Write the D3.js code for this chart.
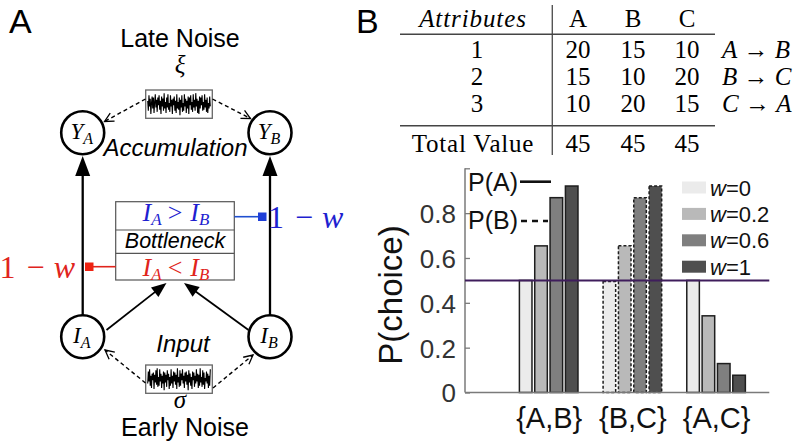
<!DOCTYPE html>
<html><head><meta charset="utf-8">
<script src="https://cdn.jsdelivr.net/npm/d3@7"></script>
<style>body{margin:0;background:#fff}svg{display:block}</style>
</head><body>
<script>
// ---------- data ----------
const pairs = ["{A,B}", "{B,C}", "{A,C}"];
const weights = ["0", "0.2", "0.6", "1"];
const probW0   = [0.50, 0.495, 0.50];
const probW02  = [0.654, 0.654, 0.342];
const probW06  = [0.869, 0.869, 0.129];
const probW1   = [0.921, 0.921, 0.077];
const dashedPair = [false, true, false];
const barColors = ["#ebebeb", "#b9b9b9", "#7f7f7f", "#4f4f4f"];
const yTicks = [0, 0.2, 0.4, 0.6, 0.8, 1.0];
const yTickLabels = ["0", "0.2", "0.4", "0.6", "0.8", ""];
const chanceLevel = 0.5;

const tableCols = ["A", "B", "C"];
const tableRows = ["1", "2", "3"];
const attr1 = [20, 15, 10];
const attr2 = [15, 10, 20];
const attr3 = [10, 20, 15];
const totals = [45, 45, 45];
const relations = [["A", "B"], ["B", "C"], ["C", "A"]];

const noiseLate = [0.3,-0.6,0.8,-0.2,0.5,-0.9,0.1,0.7,-0.4,0.6,-0.8,0.2,0.9,-0.3,0.4,-0.7,0.6,-0.1,0.8,-0.5,0.3,-0.9,0.7,-0.2,0.5,-0.6,1.0,-0.4,0.2,-0.8,0.6,-0.3,0.9,-0.5,0.1,-0.7,0.8,-0.2,0.4,-0.9,0.5,-0.1,0.7,-0.6,0.3,-0.8,0.9,-0.4,0.2,-0.5,0.6,-1.0,0.4,-0.3,0.8,-0.7,0.1,-0.6,0.9,-0.2,0.5,-0.8,0.3,-0.4,0.7,-0.9,0.6,-0.1,0.8,-0.5,0.2,-0.7,0.9,-0.3,0.4,-0.6,1.0,-0.2,0.5,-0.8,0.3,-0.9,0.7,-0.4,0.6,-0.1,0.8,-0.6,0.2,-0.5,0.9,-0.3,0.4,-0.7,0.6,-0.8,0.1,-0.4,0.7,-0.2];
const noiseEarly = [-0.4,0.7,-0.2,0.9,-0.6,0.3,-0.8,0.5,-0.1,0.6,-0.9,0.4,-0.3,0.8,-0.5,1.0,-0.7,0.2,-0.6,0.9,-0.2,0.5,-0.8,0.3,-0.4,0.7,-1.0,0.6,-0.3,0.4,-0.7,0.8,-0.1,0.5,-0.9,0.2,-0.6,0.9,-0.4,0.3,-0.8,0.7,-0.2,0.6,-0.5,0.4,-0.9,1.0,-0.3,0.2,-0.7,0.8,-0.6,0.5,-0.1,0.9,-0.4,0.3,-0.8,0.6,-0.2,0.7,-0.5,0.4,-1.0,0.8,-0.3,0.5,-0.6,0.2,-0.9,0.7,-0.1,0.6,-0.7,0.3,-0.4,0.9,-0.2,0.5,-0.8,0.4,-0.6,1.0,-0.3,0.2,-0.7,0.8,-0.5,0.6,-0.9,0.1,-0.2,0.7,-0.4,0.5,-0.8,0.3,-0.6,0.9];

// ---------- setup ----------
const W = 796, H = 442;
const SANS = "'Liberation Sans', Arial, sans-serif";
const SERIF = "'Liberation Serif', 'Times New Roman', serif";
const svg = d3.select("body").append("svg").attr("width", W).attr("height", H);

// ---------- panel letters ----------
svg.append("text").attr("x", 9).attr("y", 33).attr("font-family", SANS).attr("font-size", 34).text("A");
svg.append("text").attr("x", 356).attr("y", 33).attr("font-family", SANS).attr("font-size", 34).text("B");

// ---------- panel A diagram ----------
const gA = svg.append("g");
function arrow(g, x1, y1, x2, y2, o) {
  const dx = x2 - x1, dy = y2 - y1, L = Math.hypot(dx, dy), ux = dx / L, uy = dy / L, px = -uy, py = ux;
  const bx = x2 - o.len * ux, by = y2 - o.len * uy;
  const line = g.append("line").attr("x1", x1).attr("y1", y1)
    .attr("stroke", "#000").attr("stroke-width", o.sw || 2);
  if (o.dashed) line.attr("stroke-dasharray", "4,3");
  if (o.filled) {
    line.attr("x2", bx + ux).attr("y2", by + uy);
    g.append("path").attr("d", `M${x2},${y2}L${bx + px * o.w / 2},${by + py * o.w / 2}L${bx - px * o.w / 2},${by - py * o.w / 2}Z`).attr("fill", "#000");
  } else {
    line.attr("x2", x2).attr("y2", y2);
    g.append("path").attr("d", `M${bx + px * o.w / 2},${by + py * o.w / 2}L${x2},${y2}L${bx - px * o.w / 2},${by - py * o.w / 2}`)
      .attr("fill", "none").attr("stroke", "#000").attr("stroke-width", 1.3);
  }
}
function noiseBox(g, x, y, w, h, data) {
  g.append("rect").attr("x", x).attr("y", y).attr("width", w).attr("height", h)
    .attr("fill", "#fff").attr("stroke", "#666").attr("stroke-width", 1.3);
  const sx = d3.scaleLinear().domain([0, data.length - 1]).range([x + 2, x + w - 2]);
  const sy = d3.scaleLinear().domain([-1, 1]).range([y + h / 2 + 11, y + h / 2 - 11]);
  g.append("path").datum(data).attr("d", d3.line().x((d, i) => sx(i)).y(d => sy(d)))
    .attr("fill", "none").attr("stroke", "#000").attr("stroke-width", 1.1);
}
function node(g, cx, cy, letter, sub) {
  g.append("circle").attr("cx", cx).attr("cy", cy).attr("r", 21.5).attr("fill", "#fff").attr("stroke", "#000").attr("stroke-width", 2.6);
  const t = g.append("text").attr("x", cx - 1).attr("y", cy + 6).attr("text-anchor", "middle")
    .attr("font-family", SERIF).attr("font-style", "italic").attr("font-size", 23);
  t.append("tspan").text(letter);
  t.append("tspan").attr("font-size", 16).attr("dy", 5).text(sub);
}
function ineq(g, x, y, op, color) {
  const t = g.append("text").attr("x", x).attr("y", y).attr("text-anchor", "middle")
    .attr("font-family", SERIF).attr("font-size", 26).attr("fill", color);
  t.append("tspan").attr("font-style", "italic").text("I");
  t.append("tspan").attr("font-style", "italic").attr("font-size", 17).attr("dy", 4).text("A");
  t.append("tspan").attr("dy", -4).attr("dx", 6).text(op);
  t.append("tspan").attr("font-style", "italic").attr("dx", 8).text("I");
  t.append("tspan").attr("font-style", "italic").attr("font-size", 17).attr("dy", 4).text("B");
}
function oneMinusW(g, x, y, anchor, color) {
  const t = g.append("text").attr("x", x).attr("y", y).attr("text-anchor", anchor)
    .attr("font-family", SERIF).attr("font-size", 32).attr("fill", color);
  t.append("tspan").text("1");
  t.append("tspan").attr("dx", 11).text("\u2212");
  t.append("tspan").attr("dx", 9).attr("font-style", "italic").text("w");
}

gA.append("text").attr("x", 180).attr("y", 47).attr("text-anchor", "middle").attr("font-family", SANS).attr("font-size", 25).text("Late Noise");
gA.append("text").attr("x", 180).attr("y", 73).attr("text-anchor", "middle").attr("font-family", SERIF).attr("font-style", "italic").attr("font-size", 25).text("\u03BE");
noiseBox(gA, 145.7, 90, 66.6, 28.3, noiseLate);

arrow(gA, 145.5, 99, 104.5, 121.5, {dashed: true, len: 9, w: 9, sw: 1.4});
arrow(gA, 212.5, 99, 250.5, 118.5, {dashed: true, len: 9, w: 9, sw: 1.4});

arrow(gA, 82.7, 315, 82.7, 156, {filled: true, len: 20, w: 15, sw: 2.3});
arrow(gA, 270, 315, 270, 156, {filled: true, len: 20, w: 15, sw: 2.3});

node(gA, 82.7, 132.7, "Y", "A");
node(gA, 270, 132.7, "Y", "B");
gA.append("text").attr("x", 175.5).attr("y", 156).attr("text-anchor", "middle").attr("font-family", SANS).attr("font-style", "italic").attr("font-size", 24).text("Accumulation");

// bottleneck box
gA.append("rect").attr("x", 115.7).attr("y", 201.7).attr("width", 118.6).attr("height", 78.3).attr("fill", "#fff").attr("stroke", "#555").attr("stroke-width", 1.2);
gA.append("line").attr("x1", 115.7).attr("x2", 234.3).attr("y1", 230).attr("y2", 230).attr("stroke", "#555").attr("stroke-width", 1.2);
gA.append("line").attr("x1", 115.7).attr("x2", 234.3).attr("y1", 253.3).attr("y2", 253.3).attr("stroke", "#555").attr("stroke-width", 1.2);
ineq(gA, 176, 221, ">", "#1f1fd0");
gA.append("text").attr("x", 175).attr("y", 248).attr("text-anchor", "middle").attr("font-family", SANS).attr("font-style", "italic").attr("font-size", 21.5).text("Bottleneck");
ineq(gA, 176, 275.5, "<", "#e0241c");

// inhibition links
gA.append("line").attr("x1", 234.3).attr("x2", 262).attr("y1", 216.7).attr("y2", 216.7).attr("stroke", "#1f4fd0").attr("stroke-width", 1.6);
gA.append("rect").attr("x", 258).attr("y", 212.5).attr("width", 8.5).attr("height", 8.5).attr("fill", "#1f3fd8");
oneMinusW(gA, 268, 228, "start", "#1f1fd0");
gA.append("line").attr("x1", 115.7).attr("x2", 88).attr("y1", 266.7).attr("y2", 266.7).attr("stroke", "#e0241c").attr("stroke-width", 1.6);
gA.append("rect").attr("x", 85).attr("y", 262.5).attr("width", 8.5).attr("height", 8.5).attr("fill", "#ee2211");
oneMinusW(gA, 75, 278, "end", "#e0241c");

// inputs to bottleneck
arrow(gA, 106.5, 330, 166.5, 283, {filled: true, len: 15, w: 12, sw: 1.8});
arrow(gA, 248.5, 330, 184, 283, {filled: true, len: 15, w: 12, sw: 1.8});

node(gA, 82.7, 336.7, "I", "A");
node(gA, 270, 336.7, "I", "B");
gA.append("text").attr("x", 183).attr("y", 352).attr("text-anchor", "middle").attr("font-family", SANS).attr("font-style", "italic").attr("font-size", 24).text("Input");

noiseBox(gA, 145.7, 365, 66.6, 28.3, noiseEarly);
arrow(gA, 145.5, 383, 105, 350, {dashed: true, len: 9, w: 9, sw: 1.4});
arrow(gA, 213, 388, 253, 355, {dashed: true, len: 9, w: 9, sw: 1.4});
gA.append("text").attr("x", 180).attr("y", 408).attr("text-anchor", "middle").attr("font-family", SERIF).attr("font-style", "italic").attr("font-size", 25).text("\u03C3");
gA.append("text").attr("x", 185).attr("y", 436).attr("text-anchor", "middle").attr("font-family", SANS).attr("font-size", 25).text("Early Noise");

// ---------- panel B table ----------
const gT = svg.append("g").attr("font-family", SERIF).attr("font-size", 25);
const colX = [578, 633, 687];
const rowLabelX = 477;
gT.append("line").attr("x1", 552.3).attr("x2", 552.3).attr("y1", 5).attr("y2", 155).attr("stroke", "#555").attr("stroke-width", 1.4);
gT.append("line").attr("x1", 400).attr("x2", 715).attr("y1", 34.3).attr("y2", 34.3).attr("stroke", "#444").attr("stroke-width", 1.4);
gT.append("line").attr("x1", 400).attr("x2", 715).attr("y1", 125.7).attr("y2", 125.7).attr("stroke", "#444").attr("stroke-width", 1.4);
gT.append("text").attr("x", rowLabelX - 4).attr("y", 27).attr("text-anchor", "middle").attr("font-style", "italic").attr("letter-spacing", 0.9).text("Attributes");
gT.selectAll("text.col").data(tableCols).join("text").attr("class", "col")
  .attr("x", (d, i) => colX[i]).attr("y", 27).attr("text-anchor", "middle").text(d => d);
const rowsData = [attr1, attr2, attr3];
const rowY = [58, 85, 111.5];
rowsData.forEach((vals, r) => {
  gT.append("text").attr("x", rowLabelX).attr("y", rowY[r]).attr("text-anchor", "middle").text(tableRows[r]);
  gT.selectAll(null).data(vals).join("text").attr("x", (d, i) => colX[i]).attr("y", rowY[r]).attr("text-anchor", "middle").text(d => d);
  const rt = gT.append("text").attr("x", 722).attr("y", rowY[r]);
  rt.append("tspan").attr("font-style", "italic").text(relations[r][0]);
  rt.append("tspan").text(" \u2192 ");
  rt.append("tspan").attr("font-style", "italic").text(relations[r][1]);
});
gT.append("text").attr("x", rowLabelX - 4).attr("y", 152).attr("text-anchor", "middle").attr("letter-spacing", 0.8).text("Total Value");
gT.selectAll(null).data(totals).join("text").attr("x", (d, i) => colX[i]).attr("y", 152).attr("text-anchor", "middle").text(d => d);

// ---------- panel B bar chart ----------
const x0 = 465, x1 = 769.3, yBot = 392.5, yTop = 168.3;
const x = d3.scaleLinear().domain([0, 3.636]).range([x0, x1]);
const y = d3.scaleLinear().domain([0, 1]).range([yBot, yTop]);
const inner = d3.scaleBand().domain(weights).range([-0.35, 0.35]).paddingInner(0.18);
const series = [probW0, probW02, probW06, probW1];

const gB = svg.append("g");
pairs.forEach((p, gi) => {
  weights.forEach((w, wi) => {
    const v = series[wi][gi];
    const r = gB.append("rect")
      .attr("x", x(gi + 1 + inner(w)))
      .attr("width", x(inner.bandwidth()) - x(0))
      .attr("y", y(v)).attr("height", y(0) - y(v))
      .attr("fill", barColors[wi]).attr("stroke", "#1e1e1e").attr("stroke-width", 1.5);
    if (dashedPair[gi]) r.attr("stroke-dasharray", "3,2");
  });
});

// axes
const axCol = "#7a7a7a";
gB.append("line").attr("x1", x0).attr("x2", x1).attr("y1", yBot).attr("y2", yBot).attr("stroke", axCol).attr("stroke-width", 1.5);
gB.append("line").attr("x1", x0).attr("x2", x0).attr("y1", yBot).attr("y2", yTop).attr("stroke", axCol).attr("stroke-width", 1.5);
const yAxis = d3.axisLeft(y).tickValues(yTicks).tickSize(-5).tickPadding(9).tickFormat((d, i) => yTickLabels[i]);
const ya = gB.append("g").attr("transform", `translate(${x0},0)`).call(yAxis);
ya.select(".domain").remove();
ya.selectAll(".tick line").attr("stroke", axCol).attr("stroke-width", 1.3);
ya.selectAll(".tick text").attr("font-family", SANS).attr("font-size", 26).attr("fill", "#333").attr("dy", "0.36em");

const xa = gB.append("g").attr("transform", `translate(0,${yBot})`)
  .call(d3.axisBottom(x).tickValues([1, 2, 3]).tickSize(0).tickPadding(0).tickFormat((d, i) => pairs[i]));
xa.select(".domain").remove();
xa.selectAll(".tick text").attr("font-family", SANS).attr("font-size", 29).attr("fill", "#111").attr("y", 35.5).attr("dy", null);

// chance line
gB.append("line").attr("x1", x0).attr("x2", x1).attr("y1", y(chanceLevel)).attr("y2", y(chanceLevel)).attr("stroke", "#3f1d5c").attr("stroke-width", 2);

// y label
gB.append("text").attr("transform", `translate(402,295) rotate(-90)`).attr("text-anchor", "middle")
  .attr("font-family", SANS).attr("font-size", 33).attr("fill", "#111").text("P(choice)");

// P(A)/P(B) key
gB.append("text").attr("x", 468).attr("y", 191).attr("font-family", SANS).attr("font-size", 25).attr("fill", "#111").text("P(A)");
gB.append("line").attr("x1", 520).attr("x2", 551).attr("y1", 181.7).attr("y2", 181.7).attr("stroke", "#111").attr("stroke-width", 2.6);
gB.append("text").attr("x", 468).attr("y", 229).attr("font-family", SANS).attr("font-size", 25).attr("fill", "#111").text("P(B)");
gB.append("line").attr("x1", 521).attr("x2", 548).attr("y1", 221).attr("y2", 221).attr("stroke", "#111").attr("stroke-width", 2.6).attr("stroke-dasharray", "6,5");

// legend
const leg = gB.append("g");
weights.forEach((w, i) => {
  const cy = 187.5 + i * 26.4;
  leg.append("rect").attr("x", 682).attr("y", cy - 6).attr("width", 24).attr("height", 12).attr("fill", barColors[i]);
  const t = leg.append("text").attr("x", 710).attr("y", cy + 8).attr("font-family", SANS).attr("font-size", 22).attr("fill", "#111");
  t.append("tspan").attr("font-style", "italic").text("w");
  t.append("tspan").text("=" + w);
});
</script>
</body></html>
